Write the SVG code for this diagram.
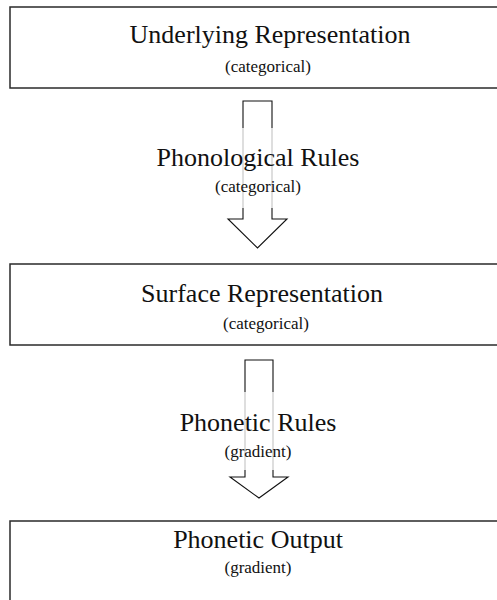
<svg xmlns="http://www.w3.org/2000/svg" width="497" height="600" viewBox="0 0 497 600">
<style>
  .box { fill: #fff; stroke: #2a2a2a; stroke-width: 1.5; }
  .arrow { fill: none; stroke: #111; stroke-width: 1.1; stroke-linejoin: miter; }
  .veil { fill: #fff; fill-opacity: 0.75; }
  .t { font-family: "Liberation Serif", "DejaVu Serif", serif; fill: #111; text-anchor: middle; }
  .main { font-size: 26px; }
  .sub { font-size: 17px; }
</style>
<rect width="497" height="600" fill="#fff"/>
<g id="connectors">
  <g id="arrow1">
    <path class="arrow" d="M243,219 V101 H272 V219 H287 L257.5,248 L228,219 Z"/>
  </g>
  <g id="arrow2">
    <path class="arrow" d="M245,477 V360 H273 V477 H288 L259,498 L230,477 Z"/>
  </g>
</g>
<g id="node-underlying">
  <rect class="box" x="10" y="7" width="540" height="81"/>
  <text class="t main" x="270" y="43">Underlying Representation</text>
  <text class="t sub" x="268" y="72">(categorical)</text>
</g>
<g id="label-phonological">
  <rect class="veil" x="150" y="128" width="220" height="80"/>
  <text class="t main" x="258" y="166">Phonological Rules</text>
  <text class="t sub" x="258" y="192">(categorical)</text>
</g>
<g id="node-surface">
  <rect class="box" x="10" y="264" width="540" height="81"/>
  <text class="t main" x="262" y="302">Surface Representation</text>
  <text class="t sub" x="266" y="329">(categorical)</text>
</g>
<g id="label-phonetic">
  <rect class="veil" x="150" y="392" width="220" height="78"/>
  <text class="t main" x="258" y="431">Phonetic Rules</text>
  <text class="t sub" x="258" y="457">(gradient)</text>
</g>
<g id="node-output">
  <rect class="box" x="10" y="521" width="540" height="100"/>
  <text class="t main" x="258" y="548">Phonetic Output</text>
  <text class="t sub" x="258" y="573">(gradient)</text>
</g>
</svg>
